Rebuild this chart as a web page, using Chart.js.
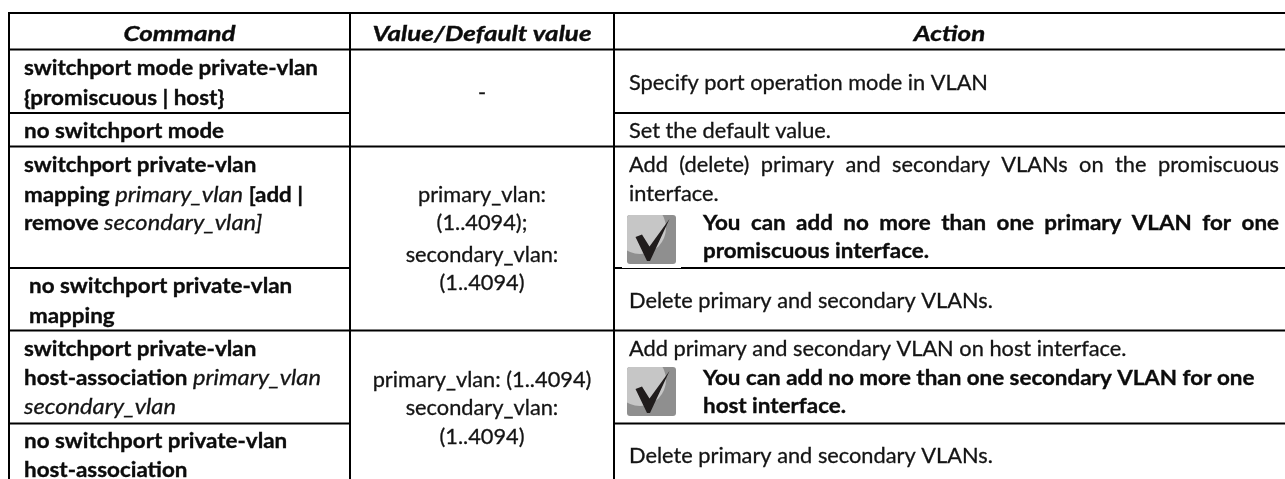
<!DOCTYPE html>
<html>
<head>
<meta charset="utf-8">
<style>
  html, body { margin: 0; padding: 0; background: #fff; }
  canvas { display: block; }
</style>
</head>
<body>
  <canvas id="chart1" width="1285" height="479"></canvas>
<script src="https://cdn.jsdelivr.net/npm/chart.js@4"></script>
<script>
  // cell text, one entry per printed line: b = bold, i = italic, r = regular
  const headers = ['Command', 'Value/Default value', 'Action']
  const commands = [
    [['b', 'switchport mode private-vlan']],
    [['b', '{promiscuous | host}']],
    [['b', 'no switchport mode']],
    [['b', 'switchport private-vlan']],
    [['b', 'mapping '], ['i', 'primary_vlan '], ['b', '[add |']],
    [['b', 'remove '], ['i', 'secondary_vlan]']],
    [['b', 'no switchport private-vlan']],
    [['b', 'mapping']],
    [['b', 'switchport private-vlan']],
    [['b', 'host-association '], ['i', 'primary_vlan']],
    [['i', 'secondary_vlan']],
    [['b', 'no switchport private-vlan']],
    [['b', 'host-association']]
  ]
  const values = [
    '-',
    'primary_vlan:',
    '(1..4094);',
    'secondary_vlan:',
    '(1..4094)',
    'primary_vlan: (1..4094)',
    'secondary_vlan:',
    '(1..4094)'
  ]
  const actions = [
    [['r', 'Specify port operation mode in VLAN']],
    [['r', 'Set the default value.']],
    [['r', 'Add (delete) primary and secondary VLANs on the promiscuous']],
    [['r', 'interface.']],
    [['b', 'You can add no more than one primary VLAN for one']],
    [['b', 'promiscuous interface.']],
    [['r', 'Delete primary and secondary VLANs.']],
    [['r', 'Add primary and secondary VLAN on host interface.']],
    [['b', 'You can add no more than one secondary VLAN for one']],
    [['b', 'host interface.']],
    [['r', 'Delete primary and secondary VLANs.']]
  ]

  // layout, in page pixels
  const colEdges = [9, 350, 614, 1285]
  const headerBase = 40.5
  const commandBase = [75, 105, 137.5, 171.5, 201.5, 230, 292.5, 323, 356, 385, 414, 448, 477]
  const commandLeft = [24, 24, 24, 24, 24, 24, 29, 29, 24, 24, 24, 24, 24]
  const valueBase = [100, 201.5, 230, 261.5, 290, 386.5, 415, 444]
  const actionBase = [90, 137.5, 171.5, 201, 230, 258, 308, 356, 385, 413, 462.5]
  const actionLeft = [629, 629, 629, 629, 703, 703, 629, 629, 703, 703, 629]
  const justified = { 2: 1279, 4: 1279 }
  const iconBoxes = [[627, 215], [627, 367]]
  const rules = [
    [9, 1285, 13],
    [9, 1285, 49.5],
    [9, 350, 113],
    [614, 1285, 113],
    [9, 1285, 146.5],
    [9, 350, 268],
    [614, 1285, 268],
    [9, 1285, 330.5],
    [9, 350, 423.5],
    [614, 1285, 423.5],
    [9, 9, 13, 479],
    [350, 350, 13, 479],
    [614, 614, 13, 479]
  ]

  const fonts = {
    b: 'bold 21px Lato',
    i: 'italic 21px Lato',
    r: '21px Lato',
    h: 'italic bold 21px Lato'
  }
  const inks = { b: '#0c0c0c', i: '#141414', r: '#141414', h: '#0c0c0c' }
  const thicken = { b: 0.35, i: 0.3, r: 0.3, h: 0.35 }
  // Lato is wider than the original's font, so squeeze each style to fit
  const squeeze = {}
  function measure(ctx, style, text) {
    ctx.font = fonts[style]
    return ctx.measureText(text).width
  }
  function fitStyles(ctx) {
    squeeze.b = 294 / measure(ctx, 'b', 'switchport mode private-vlan')
    squeeze.r = 359 / measure(ctx, 'r', 'Specify port operation mode in VLAN')
    squeeze.i = 128 / measure(ctx, 'i', 'primary_vlan')
    squeeze.h = 112 / measure(ctx, 'h', 'Command')
  }
  function drawRun(ctx, style, text, x, y) {
    ctx.save()
    ctx.font = fonts[style]
    ctx.fillStyle = inks[style]
    ctx.translate(x, y)
    ctx.scale(squeeze[style], 1)
    ctx.fillText(text, 0, 0)
    // the squeezed strokes print thin next to the original
    ctx.strokeStyle = inks[style]
    ctx.lineWidth = thicken[style]
    ctx.strokeText(text, 0, 0)
    ctx.restore()
    return measure(ctx, style, text) * squeeze[style]
  }
  function drawLine(ctx, runs, x, y) {
    runs.forEach(([style, text]) => {
      x += drawRun(ctx, style, text, x, y)
    })
  }
  function drawJustified(ctx, style, text, x, right, y) {
    const words = text.split(' ')
    const total = words.reduce((sum, w) => sum + measure(ctx, style, w) * squeeze[style], 0)
    const gap = (right - x - total) / (words.length - 1)
    words.forEach(w => {
      x += drawRun(ctx, style, w, x, y) + gap
    })
  }
  function drawCentered(ctx, style, text, center, y) {
    drawRun(ctx, style, text, center - measure(ctx, style, text) * squeeze[style] / 2, y)
  }
  function drawIcon(ctx, x, y) {
    ctx.save()
    ctx.beginPath()
    ctx.roundRect(x, y, 49, 49, 3)
    ctx.clip()
    ctx.fillStyle = '#8f8f8f'
    ctx.fillRect(x, y, 49, 49)
    ctx.fillStyle = '#c6c6c6'
    ctx.beginPath()
    ctx.arc(x + 13, y + 13, 26, 0, Math.PI * 2)
    ctx.fill()
    ctx.fillStyle = '#201c1c'
    ctx.beginPath()
    ctx.moveTo(x + 8.5, y + 22)
    ctx.lineTo(x + 15, y + 19.5)
    ctx.lineTo(x + 22.5, y + 31.5)
    ctx.lineTo(x + 42.5, y + 4)
    ctx.lineTo(x + 23, y + 46)
    ctx.lineTo(x + 20, y + 46)
    ctx.closePath()
    ctx.fill()
    ctx.restore()
  }

  const tableCells = {
    id: 'tableCells',
    afterDraw(chart) {
      const { ctx, scales } = chart
      const px = v => scales.x.getPixelForValue(v)
      const py = v => scales.y.getPixelForValue(v)
      ctx.save()
      ctx.textBaseline = 'alphabetic'
      ctx.textAlign = 'left'
      fitStyles(ctx)
      headers.forEach((text, i) => {
        drawCentered(ctx, 'h', text, px((colEdges[i] + colEdges[i + 1]) / 2), py(headerBase))
      })
      commands.forEach((runs, i) => drawLine(ctx, runs, px(commandLeft[i]), py(commandBase[i])))
      values.forEach((text, i) => {
        drawCentered(ctx, 'r', text, px((colEdges[1] + colEdges[2]) / 2), py(valueBase[i]))
      })
      actions.forEach((runs, i) => {
        if (justified[i]) {
          drawJustified(ctx, runs[0][0], runs[0][1], px(actionLeft[i]), px(justified[i]), py(actionBase[i]))
        } else {
          drawLine(ctx, runs, px(actionLeft[i]), py(actionBase[i]))
        }
      })
      iconBoxes.forEach(([x, y]) => drawIcon(ctx, px(x), py(y)))
      // the original's picture clips the rule under the first icon
      ctx.fillStyle = '#fff'
      ctx.fillRect(px(622), py(267), 59, 1)
      ctx.restore()
    }
  }

  new Chart(document.getElementById('chart1'), {
    type: 'scatter',
    data: {
      datasets: rules.map(r => ({
        data: r.length === 3
          ? [{ x: r[0], y: r[2] }, { x: r[1], y: r[2] }]
          : [{ x: r[0], y: r[2] }, { x: r[1], y: r[3] }],
        showLine: true,
        borderColor: '#000',
        borderWidth: 2,
        borderCapStyle: 'square',
        pointRadius: 0
      }))
    },
    options: {
      responsive: false,
      animation: false,
      layout: { padding: 0 },
      plugins: { legend: { display: false }, tooltip: { enabled: false } },
      scales: {
        x: { type: 'linear', min: 0, max: 1285, display: false },
        y: { type: 'linear', min: 0, max: 479, reverse: true, display: false }
      }
    },
    plugins: [tableCells]
  })
</script>
</body>
</html>
